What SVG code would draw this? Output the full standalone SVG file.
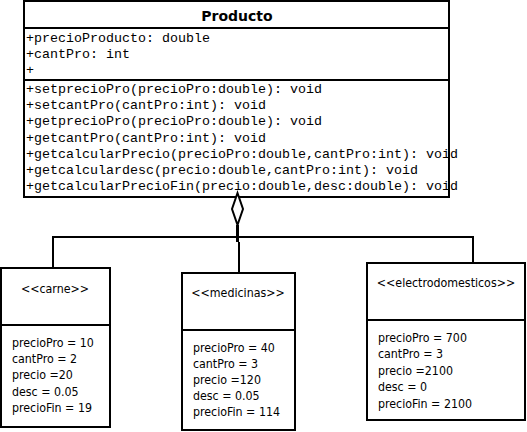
<svg xmlns="http://www.w3.org/2000/svg" width="527" height="432" viewBox="0 0 527 432">
<style>
.box{fill:#fff;stroke:#000;stroke-width:2}
.sep{stroke:#000;stroke-width:2}
.mono{font-family:"Liberation Mono","Courier New",monospace;font-size:13.33px;fill:#000}
.title{font-family:"DejaVu Sans",Tahoma,sans-serif;font-weight:bold;font-size:14px;fill:#000}
.sm{font-family:"DejaVu Sans Condensed","DejaVu Sans",Tahoma,sans-serif;font-stretch:condensed;font-size:12.3px;fill:#000}
.conn{fill:none;stroke:#000;stroke-width:2}
</style>
<rect width="527" height="432" fill="#fff"/>
<g id="Producto">
<rect class="box" x="24" y="1" width="425" height="196"/>
<line class="sep" x1="24" y1="28" x2="449" y2="28"/>
<line class="sep" x1="24" y1="80" x2="449" y2="80"/>
<text class="title" x="237" y="21" text-anchor="middle">Producto</text>
<text class="mono" x="26" y="42">+precioProducto: double</text>
<text class="mono" x="26" y="58">+cantPro: int</text>
<text class="mono" x="26" y="74">+</text>
<text class="mono" x="26" y="93">+setprecioPro(precioPro:double): void</text>
<text class="mono" x="26" y="109">+setcantPro(cantPro:int): void</text>
<text class="mono" x="26" y="125">+getprecioPro(precioPro:double): void</text>
<text class="mono" x="26" y="142">+getcantPro(cantPro:int): void</text>
<text class="mono" x="26" y="158">+getcalcularPrecio(precioPro:double,cantPro:int): void</text>
<text class="mono" x="26" y="174">+getcalculardesc(precio:double,cantPro:int): void</text>
<text class="mono" x="26" y="190">+getcalcularPrecioFin(precio:double,desc:double): void</text>
</g>
<g id="connectors">
<path class="conn" d="M53,268 L53,237 L473,237 L473,263"/>
<path class="conn" d="M239,242 L239,273"/>
<path d="M237.5,242 L237.5,225" stroke="#000" stroke-width="3"/>
<polygon points="237.5,193 243,209 237.5,225 232,209" fill="#fff" stroke="#000" stroke-width="2"/>
</g>
<g id="carne">
<rect class="box" x="1" y="268" width="109" height="159"/>
<line class="sep" x1="1" y1="325" x2="110" y2="325"/>
<text class="sm" x="55" y="293" text-anchor="middle">&lt;&lt;carne&gt;&gt;</text>
<text class="sm" x="12" y="347">precioPro = 10</text>
<text class="sm" x="12" y="363">cantPro = 2</text>
<text class="sm" x="12" y="379">precio =20</text>
<text class="sm" x="12" y="396">desc = 0.05</text>
<text class="sm" x="12" y="412">precioFin = 19</text>
</g>
<g id="medicinas">
<rect class="box" x="182" y="273" width="113" height="157"/>
<line class="sep" x1="182" y1="330" x2="295" y2="330"/>
<text class="sm" x="238" y="297" text-anchor="middle">&lt;&lt;medicinas&gt;&gt;</text>
<text class="sm" x="193" y="352">precioPro = 40</text>
<text class="sm" x="193" y="368">cantPro = 3</text>
<text class="sm" x="193" y="384">precio =120</text>
<text class="sm" x="193" y="400">desc = 0.05</text>
<text class="sm" x="193" y="416">precioFin = 114</text>
</g>
<g id="electrodomesticos">
<rect class="box" x="367" y="263" width="158" height="157"/>
<line class="sep" x1="367" y1="320" x2="525" y2="320"/>
<text class="sm" x="446" y="287" text-anchor="middle">&lt;&lt;electrodomesticos&gt;&gt;</text>
<text class="sm" x="378" y="342">precioPro = 700</text>
<text class="sm" x="378" y="358">cantPro = 3</text>
<text class="sm" x="378" y="375">precio =2100</text>
<text class="sm" x="378" y="391">desc = 0</text>
<text class="sm" x="378" y="408">precioFin = 2100</text>
</g>
</svg>
